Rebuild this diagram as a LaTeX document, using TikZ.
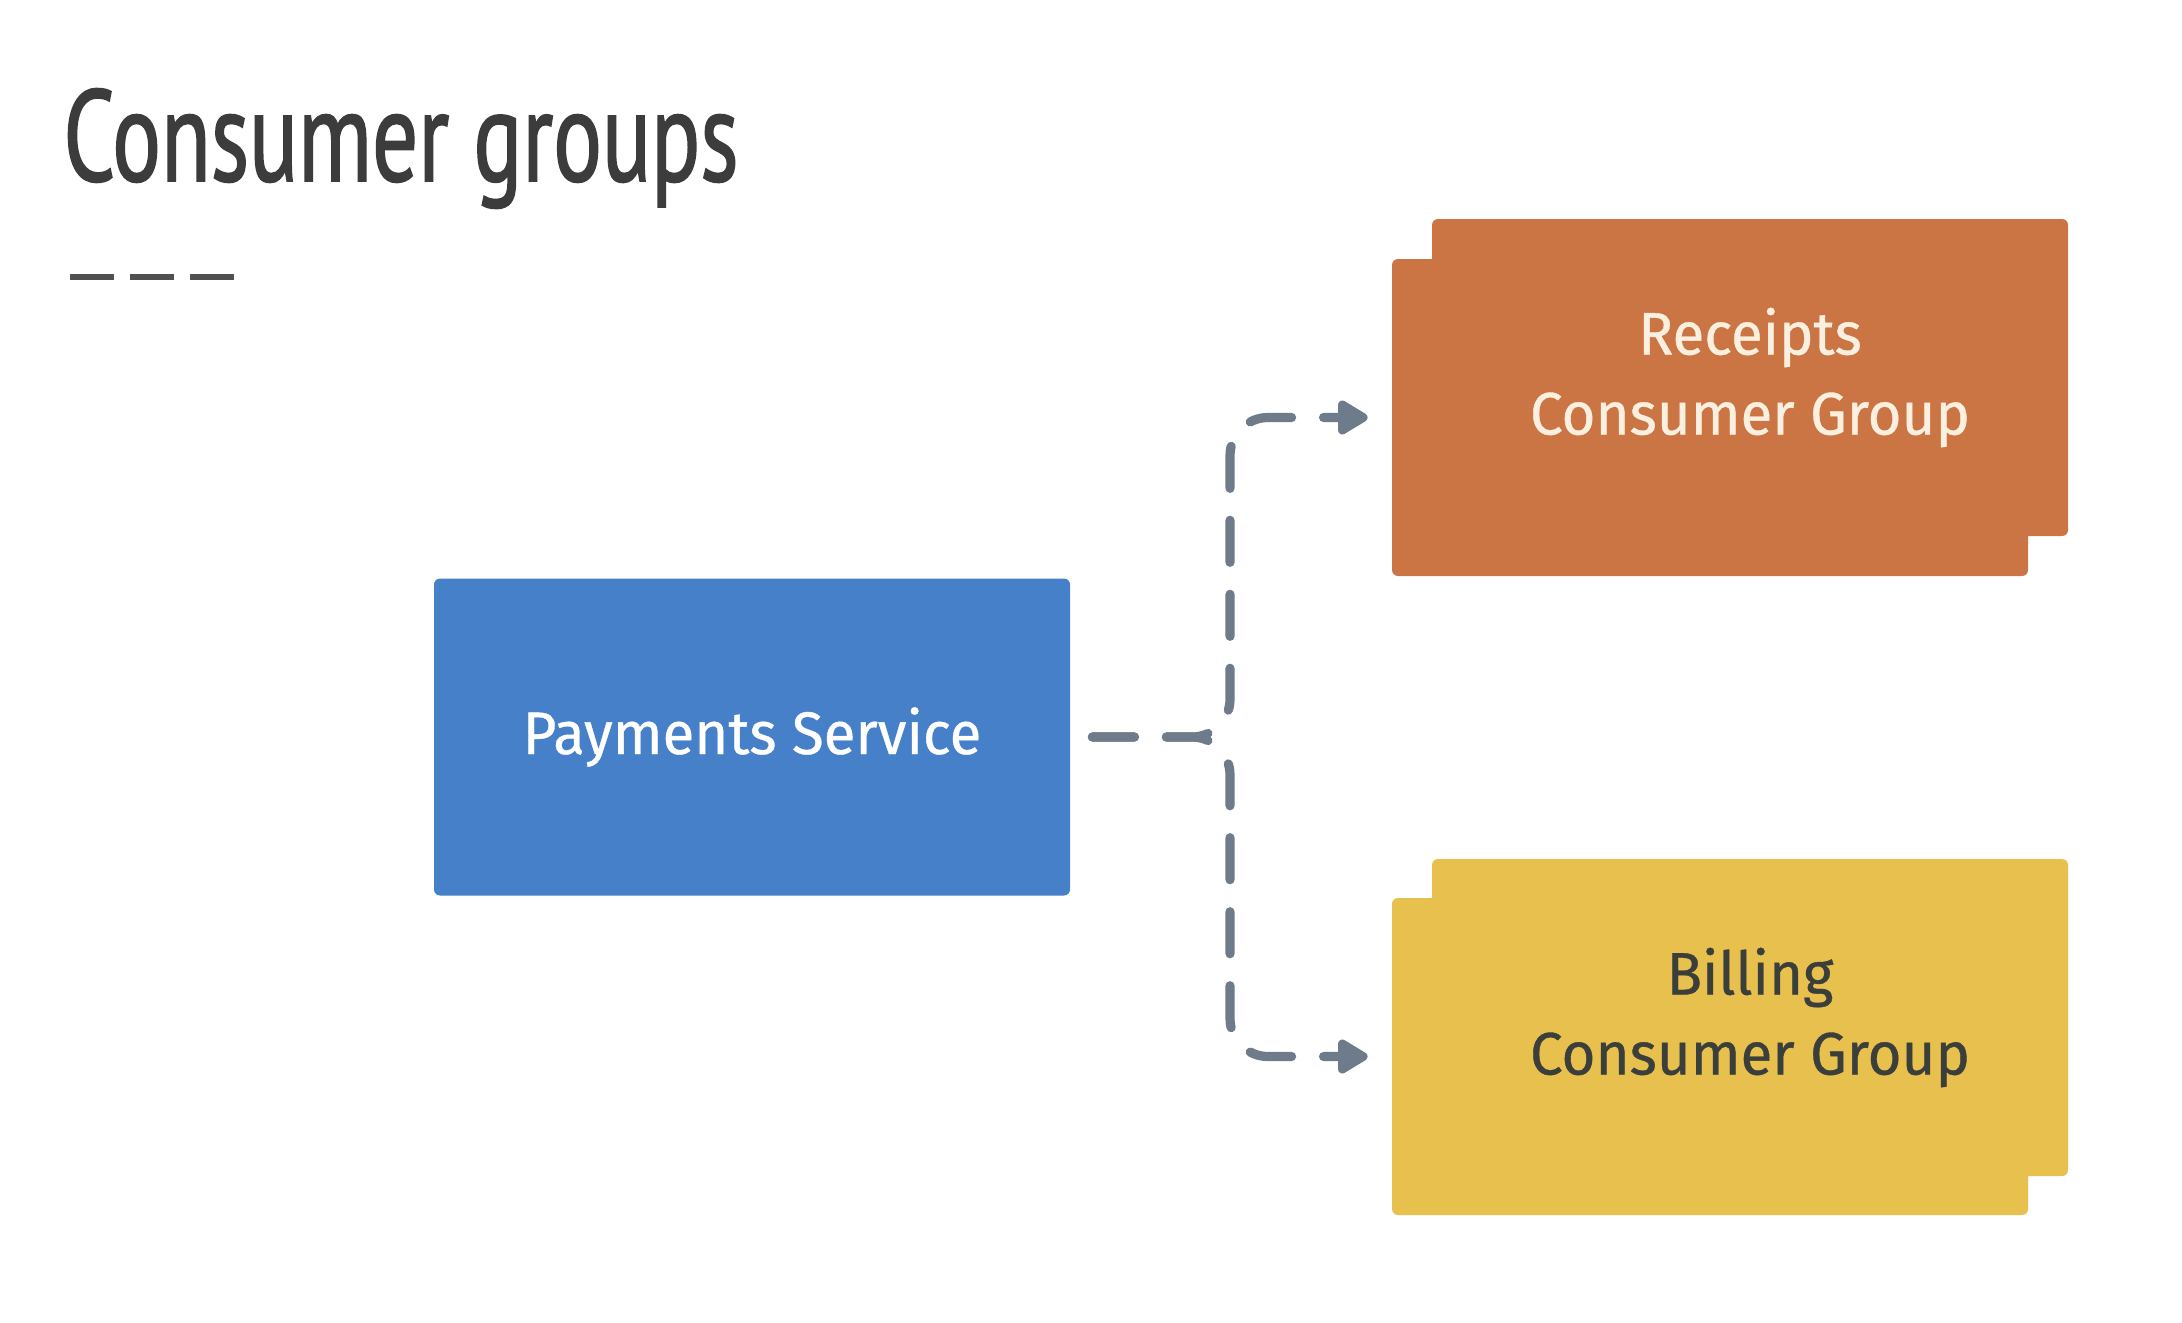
\documentclass[tikz,border=0pt]{standalone}
\usepackage{fontspec}
\usepackage{tikz}
\usetikzlibrary{arrows.meta}
\setmainfont[FakeStretch=0.97,FakeBold=0.6]{Fira Sans}
\newfontfamily\titlefont[FakeStretch=0.70,FakeBold=1.2]{PT Sans}

\definecolor{payblue}{HTML}{4580C9}
\definecolor{rcptorange}{HTML}{CC7544}
\definecolor{billyellow}{HTML}{E8C04E}
\definecolor{flowgray}{HTML}{6E7B8A}
\definecolor{titlegray}{HTML}{3C3C3C}
\definecolor{cream}{HTML}{FBEFE0}
\definecolor{darktext}{HTML}{3B3F3B}

\tikzset{
  card/.style={rounded corners=3pt, minimum width=318pt, minimum height=158.5pt, inner sep=0pt},
  cardtext/.style={font=\fontsize{30}{40}\selectfont, align=center, inner sep=0pt},
  flow/.style={draw=flowgray, line width=4.6pt, line cap=round, dash pattern=on 21pt off 16pt,
    rounded corners=19pt, -{Triangle[length=17pt,width=19pt,round]}}
}

\begin{document}
\begin{tikzpicture}[x=0.5pt,y=0.5pt,yscale=-1,xscale=1]
\useasboundingbox (0,0) rectangle (2182,1322);
\fill[white] (0,0) rectangle (2182,1322);

% Title
\node[anchor=base west, inner sep=0pt, text=titlegray, font=\titlefont\fontsize{65}{70}\selectfont] (title) at (63,181) {Consumer groups};
\foreach \i in {0,1,2}
  \draw[titlegray!90, line width=2.8pt] (70+60*\i,277) -- ++(44,0);

%Rectangle: Payments
\node[card, fill=payblue] (pay) at (752,737) {};
% Text Node
\node[cardtext, text=white] (paytext) at (pay.center) {Payments Service};

%Rectangle: Receipts (stacked)
\node[card, fill=rcptorange] (rcptback) at (1750,377.5) {};
\node[card, fill=rcptorange] (rcptfront) at (1710,417.5) {};
% Text Node
\node[cardtext, text=cream] (rcpttext) at (rcptback.center) {Receipts\\Consumer Group};

%Rectangle: Billing (stacked)
\node[card, fill=billyellow] (billback) at (1750,1017.5) {};
\node[card, fill=billyellow] (billfront) at (1710,1056.5) {};
% Text Node
\node[cardtext, text=darktext] (billtext) at (billback.center) {Billing\\Consumer Group};

%Connectors
\coordinate (fork) at (1230,737);
\draw[flow] ([xshift=11pt]pay.east) -- (fork) |- ([xshift=-12pt]rcptfront.west);
\draw[flow] ([xshift=11pt]pay.east) -- (fork) |- ([xshift=-12pt]billfront.west);

\end{tikzpicture}
\end{document}
